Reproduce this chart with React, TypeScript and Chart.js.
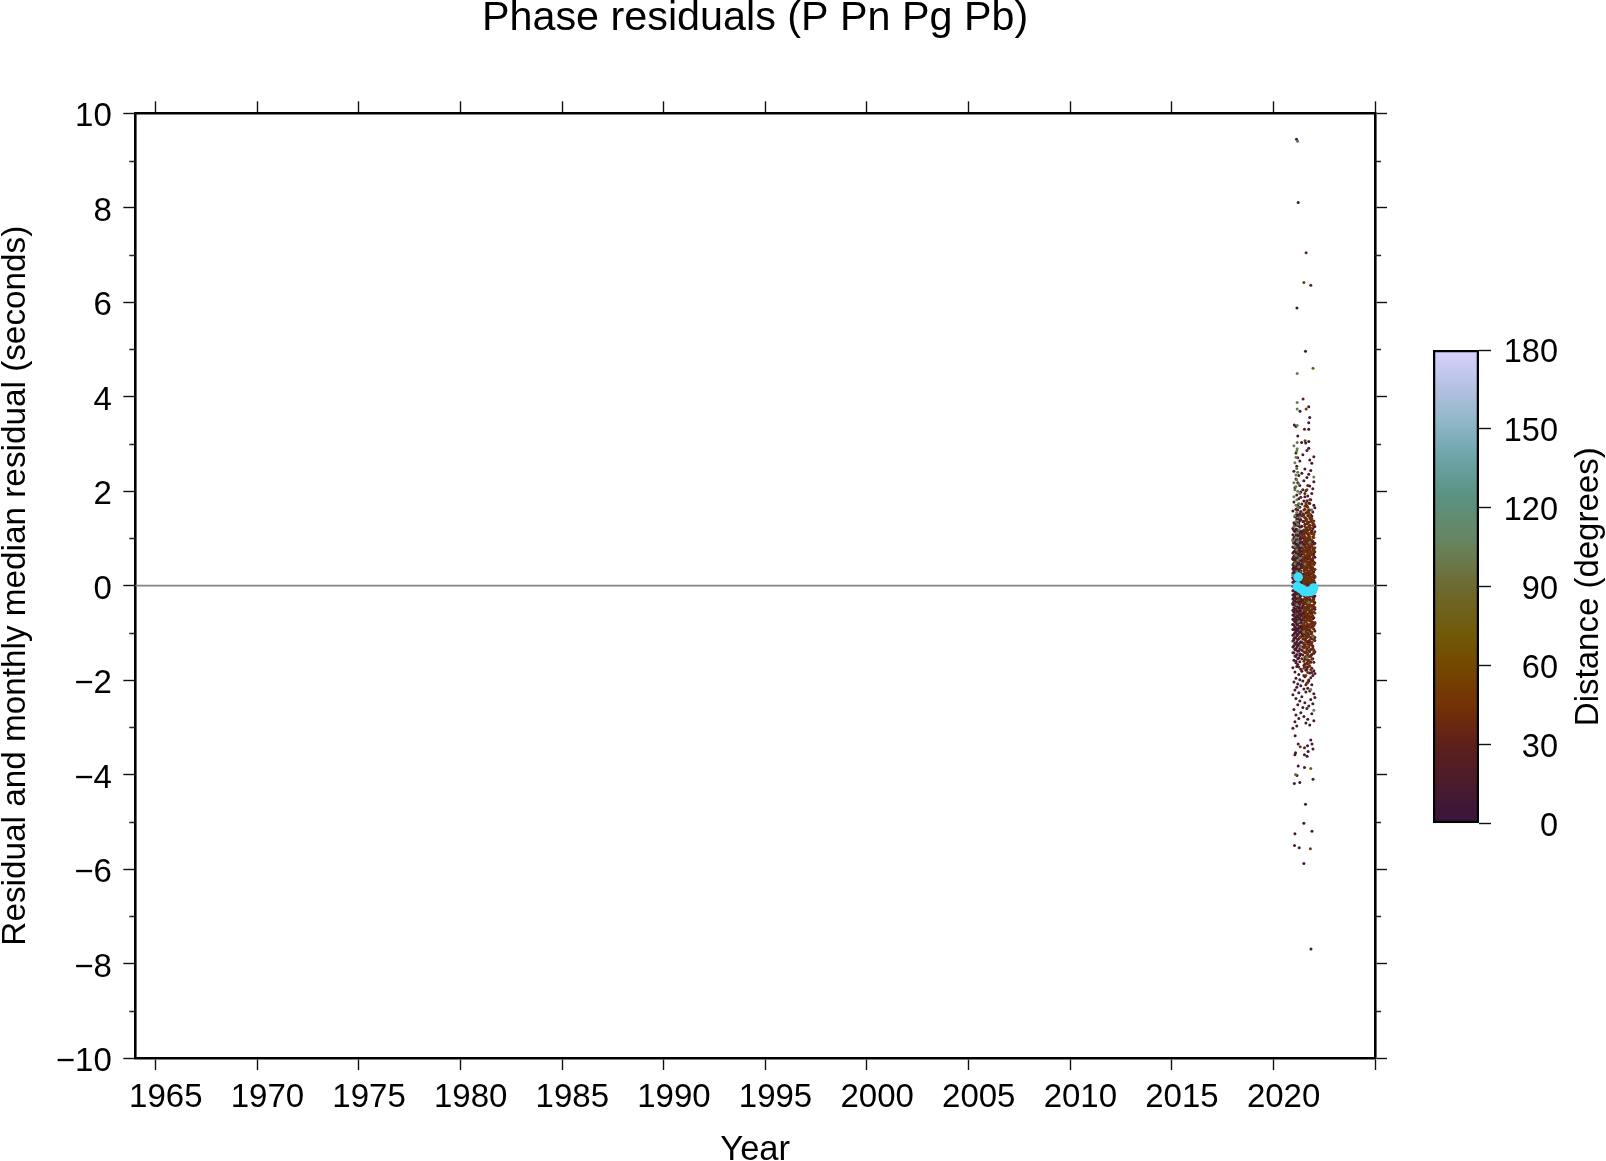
import React, { useEffect, useRef } from "react";
import { Chart, registerables } from "chart.js";

Chart.register(...registerables);

const FONT = "'Liberation Sans', Arial, sans-serif";
const yearTicks = [1965, 1970, 1975, 1980, 1985, 1990, 1995, 2000, 2005, 2010, 2015, 2020, 2025];
const unlabelledYears = [2025];
const residualMinorTicks = [-9, -7, -5, -3, -1, 1, 3, 5, 7, 9];

const medianYears = [2021.17, 2021.22, 2021.33, 2021.42, 2021.5, 2021.58, 2021.67, 2021.75, 2021.83, 2021.92, 2021.98];
const medianResiduals = [-0.02, 0.18, -0.06, -0.08, -0.12, -0.12, -0.13, -0.12, -0.12, -0.1, -0.05];

const outlierYears = [2021.14, 2021.19, 2021.22, 2021.61, 2021.5, 2021.84, 2021.16, 2021.58, 2021.95, 2021.17, 2021.46, 2021.17, 2021.74, 2021.17, 2021.61, 2021.31, 2021.79, 2021.74, 2021.03, 2021.11, 2021.17, 2021.53, 2021.74, 2021.2, 2021.56, 2021.39, 2021.59, 2021.74, 2021.17, 2021.01, 2021.17, 2021.85, 2021.5, 2021.27, 2021.04, 2021.82, 2021.06, 2021.9, 2021.5, 2021.58, 2021.03, 2021.3, 2021.95, 2021.16, 2021.09, 2021.84, 2021.22, 2021.53, 2021.66, 2021.06, 2021.53, 2021.09, 2021.71, 2021.95, 2021.68, 2021.32, 2021.53, 2021.9, 2021.22, 2021.84, 2021.07];
const outlierResiduals = [9.45, 9.41, 8.11, 7.05, 6.42, 6.36, 5.88, 4.96, 4.6, 4.49, 3.95, 3.88, 3.79, 3.74, 3.74, 3.69, 3.56, 3.45, 3.4, 3.37, 3.39, 3.31, 3.31, 3.17, 3.07, 3.03, 3.02, 3.05, 3.03, 2.96, 2.9, -7.69, -5.88, -5.55, -5.5, -5.57, -5.25, -5.2, -5.03, -4.63, -4.19, -4.17, -4.1, -4.02, -4, -3.87, -3.82, -3.85, -3.61, -3.58, -3.58, -3.54, -3.51, -3.46, -3.39, -3.41, -3.43, -3.35, -3.35, -3.27, -3.18];
const outlierDistances = [8, 100, 6, 35, 52, 25, 8, 10, 75, 100, 30, 100, 8, 100, 45, 8, 8, 8, 8, 8, 100, 30, 8, 8, 45, 8, 8, 8, 100, 100, 100, 8, 8, 8, 25, 50, 8, 8, 8, 8, 8, 8, 8, 8, 90, 78, 8, 8, 8, 8, 8, 8, 8, 8, 8, 45, 25, 8, 8, 8, 8];

const columnYears = [2020.96, 2021.01, 2021.06, 2021.11, 2021.15, 2021.2, 2021.25, 2021.3, 2021.35, 2021.4, 2021.45, 2021.5, 2021.55, 2021.6, 2021.65, 2021.69, 2021.74, 2021.79, 2021.84, 2021.89, 2021.94, 2021.99, 2022.04];

const darkColumns = [
  [-3.02, -2.31, -1.74, -1.42, -1.17, -0.93, -0.71, -0.52, -0.28, -0.11, 0.07, 0.26, 0.44, 0.69, 0.97, 1.21, 1.58],
  [-2.62, -2.04, -1.58, -1.27, -1.03, -0.84, -0.63, -0.47, -0.33, -0.18, -0.02, 0.13, 0.31, 0.48, 0.62, 0.81, 1.02, 1.33, 1.77, 2.42],
  [-2.88, -2.21, -1.83, -1.49, -1.22, -0.99, -0.77, -0.59, -0.41, -0.24, -0.08, 0.04, 0.21, 0.37, 0.55, 0.74, 0.91, 1.14, 1.46, 2.07],
  [-2.74, -2.39, -1.96, -1.63, -1.36, -1.11, -0.89, -0.68, -0.5, -0.36, -0.14, 0.01, 0.17, 0.34, 0.51, 0.7, 0.86, 1.08, 1.29, 1.62, 2.26, 2.81],
  [-2.97, -2.15, -1.71, -1.31, -1.06, -0.82, -0.65, -0.43, -0.27, -0.06, 0.09, 0.28, 0.43, 0.6, 0.78, 0.98, 1.19, 1.51, 1.92, 2.53],
  [-2.52, -2.08, -1.67, -1.39, -1.14, -0.95, -0.74, -0.56, -0.38, -0.2, -0.04, 0.15, 0.33, 0.47, 0.66, 0.83, 1.05, 1.27, 1.71, 2.18, 2.71],
  [-2.81, -2.27, -1.88, -1.53, -1.24, -1.01, -0.79, -0.61, -0.45, -0.26, -0.09, 0.05, 0.23, 0.39, 0.58, 0.76, 0.94, 1.17, 1.42, 1.84, 2.33],
  [-2.44, -1.99, -1.61, -1.33, -1.09, -0.87, -0.69, -0.49, -0.31, -0.16, 0.02, 0.19, 0.36, 0.53, 0.71, 0.89, 1.11, 1.38, 1.66, 2.12, 2.64],
  [-2.69, -2.12, -1.77, -1.45, -1.19, -0.97, -0.73, -0.54, -0.35, -0.22, -0.05, 0.11, 0.29, 0.46, 0.64, 0.84, 1.03, 1.24, 1.57, 1.98],
  [-2.35, -1.81, -1.37, -1.02, -0.78, -0.48, -0.19, 0.08, 0.38, 0.67, 0.92, 1.26, 1.73, 2.38],
  [-2.58, -2.02, -1.47, -1.13, -0.86, -0.58, -0.3, 0.03, 0.24, 0.56, 0.88, 1.16, 1.52, 2.03, 2.77],
  [-2.77, -2.19, -1.69, -1.29, -1.05, -0.81, -0.6, -0.39, -0.21, -0.03, 0.14, 0.32, 0.49, 0.68, 0.87, 1.09, 1.36, 1.79, 2.22],
  [-2.48, -1.93, -1.56, -1.25, -0.98, -0.76, -0.55, -0.37, -0.17, 0.0, 0.18, 0.35, 0.54, 0.73, 0.93, 1.13, 1.44, 1.88, 2.47],
  [-2.91, -2.25, -1.79, -1.41, -1.12, -0.9, -0.67, -0.46, -0.29, -0.1, 0.06, 0.22, 0.41, 0.59, 0.77, 0.96, 1.22, 1.54, 2.01],
  [-2.6, -2.06, -1.64, -1.34, -1.07, -0.85, -0.62, -0.44, -0.25, -0.07, 0.1, 0.27, 0.45, 0.63, 0.8, 1.01, 1.31, 1.69, 2.29, 2.86],
  [-2.83, -2.17, -1.72, -1.44, -1.18, -0.94, -0.72, -0.51, -0.34, -0.13, 0.03, 0.2, 0.4, 0.57, 0.75, 0.95, 1.18, 1.48, 1.9],
  [-2.55, -2.0, -1.59, -1.3, -1.04, -0.83, -0.64, -0.42, -0.23, -0.01, 0.16, 0.3, 0.5, 0.65, 0.85, 1.07, 1.34, 1.75, 2.36, 2.91],
  [-2.95, -2.23, -1.85, -1.5, -1.2, -0.96, -0.75, -0.57, -0.4, -0.15, 0.0, 0.25, 0.42, 0.61, 0.79, 0.99, 1.23, 1.6, 2.11, 2.66],
  [-2.41, -1.95, -1.62, -1.35, -1.1, -0.88, -0.66, -0.53, -0.32, -0.12, 0.08, 0.24, 0.38, 0.56, 0.72, 0.9, 1.12, 1.4, 1.82, 2.44],
  [-2.71, -2.1, -1.75, -1.46, -1.21, -1.0, -0.8, -0.6, -0.43, -0.2, -0.03, 0.12, 0.33, 0.52, 0.7, 0.92, 1.15, 1.47, 1.95, 2.59],
  [-2.5, -1.9, -1.55, -1.28, -1.08, -0.86, -0.7, -0.48, -0.3, -0.14, 0.05, 0.2, 0.37, 0.55, 0.74, 0.94, 1.2, 1.56, 2.05],
  [-2.86, -2.29, -1.8, -1.43, -1.15, -0.92, -0.68, -0.46, -0.26, -0.08, 0.11, 0.29, 0.47, 0.67, 0.88, 1.1, 1.37, 1.7, 2.2, 2.73],
  [-2.37, -1.86, -1.4, -1.1, -0.8, -0.5, -0.22, 0.06, 0.34, 0.6, 0.9, 1.25, 1.65],
];

const darkFillColumns = [
  [-1.3, -1.05, -0.82, -0.62, -0.4, -0.2, -0.02, 0.17, 0.35, 0.56, 0.82, 1.08],
  [-1.42, -1.15, -0.93, -0.74, -0.55, -0.4, -0.25, -0.1, 0.06, 0.22, 0.4, 0.55, 0.72, 0.92, 1.17],
  [-1.34, -1.1, -0.88, -0.68, -0.5, -0.32, -0.16, -0.01, 0.12, 0.29, 0.46, 0.64, 0.82, 1.03, 1.28],
  [-1.5, -1.24, -1.0, -0.78, -0.59, -0.43, -0.28, -0.07, 0.09, 0.25, 0.42, 0.6, 0.78, 0.96, 1.18, 1.47],
  [-1.46, -1.19, -0.94, -0.74, -0.54, -0.35, -0.17, 0.02, 0.19, 0.36, 0.52, 0.69, 0.88, 1.08, 1.35],
  [-1.55, -1.27, -1.04, -0.84, -0.65, -0.47, -0.29, -0.12, 0.06, 0.24, 0.4, 0.57, 0.74, 0.95, 1.16, 1.48],
  [-1.38, -1.13, -0.9, -0.7, -0.53, -0.35, -0.18, -0.02, 0.14, 0.31, 0.48, 0.67, 0.85, 1.06, 1.3],
  [-1.48, -1.21, -0.98, -0.78, -0.59, -0.4, -0.24, -0.07, 0.11, 0.27, 0.44, 0.62, 0.8, 1.0, 1.24, 1.52],
  [-1.29, -1.08, -0.85, -0.64, -0.47, -0.29, -0.13, 0.05, 0.2, 0.38, 0.55, 0.73, 0.93, 1.15, 1.4],
  [-1.2, -0.9, -0.62, -0.34, -0.06, 0.22, 0.52, 0.8, 1.12],
  [-1.06, -0.72, -0.42, -0.17, 0.13, 0.4, 0.72, 1.02],
];

const brownFillColumns = [
  [-1.22, -0.94, -0.66, -0.38, -0.08, 0.2, 0.5, 0.78, 1.1],
  [-1.6, -1.32, -1.12, -0.9, -0.7, -0.53, -0.34, -0.16, 0.04, 0.21, 0.39, 0.56, 0.75, 0.95, 1.18, 1.5],
  [-1.52, -1.28, -1.03, -0.85, -0.62, -0.46, -0.28, -0.07, 0.1, 0.28, 0.47, 0.64, 0.83, 1.04, 1.26, 1.62],
  [-1.72, -1.42, -1.17, -0.96, -0.76, -0.56, -0.38, -0.2, 0.0, 0.16, 0.34, 0.54, 0.72, 0.92, 1.12, 1.38, 1.7],
  [-1.66, -1.36, -1.1, -0.9, -0.69, -0.5, -0.3, -0.12, 0.07, 0.24, 0.43, 0.6, 0.8, 1.0, 1.22, 1.55],
  [-1.84, -1.5, -1.24, -1.03, -0.82, -0.62, -0.44, -0.25, -0.05, 0.13, 0.31, 0.5, 0.69, 0.88, 1.09, 1.32, 1.66],
  [-1.58, -1.3, -1.06, -0.87, -0.66, -0.48, -0.31, -0.1, 0.08, 0.26, 0.44, 0.62, 0.82, 1.02, 1.26, 1.6],
  [-1.7, -1.4, -1.15, -0.94, -0.73, -0.54, -0.35, -0.16, 0.03, 0.19, 0.37, 0.56, 0.76, 0.96, 1.19, 1.44, 1.82],
  [-1.5, -1.24, -1.02, -0.81, -0.6, -0.42, -0.22, -0.03, 0.15, 0.33, 0.51, 0.7, 0.9, 1.12, 1.36],
  [-1.56, -1.26, -0.98, -0.76, -0.52, -0.33, -0.12, 0.08, 0.27, 0.46, 0.66, 0.87, 1.1, 1.42],
  [-1.34, -1.06, -0.84, -0.64, -0.42, -0.2, 0.0, 0.19, 0.38, 0.58, 0.8, 1.03, 1.28],
  [-1.4, -1.08, -0.82, -0.56, -0.3, -0.04, 0.22, 0.5, 0.76, 1.02, 1.3],
  [-1.16, -0.78, -0.46, -0.14, 0.2, 0.48, 0.8, 1.14],
];

const brownFillStartColumn = 10;

const redColumns = [
  [-0.82, -0.37, 0.16, 0.58],
  [-1.12, -0.55, -0.1, 0.39, 0.9],
  [-1.35, -0.7, -0.2, 0.26, 0.8, 1.3],
  [-1.6, -0.95, -0.42, 0.08, 0.56, 1.2],
  [-0.73, -0.15, 0.36, 0.87, 1.41],
  [-1.25, -0.66, -0.12, 0.41, 0.95, 1.6],
  [-1.72, -0.9, -0.34, 0.13, 0.67, 1.33],
  [-1.44, -0.76, -0.23, 0.27, 0.78, 1.5],
  [-1.08, -0.61, -0.06, 0.42, 0.99, 1.87],
  [-1.55, -0.93, -0.35, -0.03, 0.24, 0.52, 0.8, 1.08, 1.48],
  [-1.3, -1.0, -0.7, -0.44, -0.12, 0.15, 0.44, 0.74, 1.02, 1.36],
  [-1.9, -1.4, -0.91, -0.46, -0.1, 0.24, 0.6, 1.0, 1.6],
  [-1.66, -1.15, -0.66, -0.26, 0.1, 0.46, 0.84, 1.3, 1.95],
  [-2.1, -1.5, -0.98, -0.55, -0.18, 0.15, 0.52, 0.88, 1.42],
  [-1.77, -1.2, -0.72, -0.31, 0.05, 0.37, 0.72, 1.16, 1.8],
  [-1.58, -1.02, -0.6, -0.2, 0.14, 0.5, 0.9, 1.35, 2.12],
  [-2.02, -1.38, -0.88, -0.47, -0.09, 0.23, 0.58, 0.97, 1.55],
  [-1.7, -1.16, -0.7, -0.28, 0.06, 0.44, 0.82, 1.28, 1.74],
  [-1.48, -0.98, -0.42, 0.02, 0.47, 0.95, 1.5],
  [-1.84, -1.12, -0.58, -0.08, 0.4, 0.84, 1.38],
  [-1.32, -0.78, -0.24, 0.28, 0.78, 1.32],
  [-1.62, -0.84, -0.34, 0.16, 0.62, 1.24],
  [-0.96, -0.36, 0.18, 0.72],
];

const orangeColumns = [
  [], [], [0.5], [-0.6], [], [0.72], [-0.3], [-1.1], [0.31], [1.05],
  [-0.82, 0.6],
  [-1.75, -1.22, -0.83, -0.5, -0.2, 0.09, 0.38, 0.7, 1.04, 1.46],
  [-1.42, -1.06, -0.75, -0.45, -0.14, 0.13, 0.41, 0.76, 1.12, 1.68],
  [-1.9, -1.3, -0.94, -0.6, -0.33, -0.04, 0.2, 0.5, 0.82, 1.18, 1.75],
  [-1.55, -1.1, -0.8, -0.5, -0.22, 0.08, 0.33, 0.65, 0.98, 1.4, 2.03],
  [-2.05, -1.45, -1.0, -0.68, -0.4, -0.1, 0.18, 0.48, 0.78, 1.12, 1.58],
  [-1.65, -1.08, -0.74, -0.44, -0.16, 0.12, 0.4, 0.7, 1.06, 1.52],
  [-1.25, -0.86, -0.52, -0.2, 0.09, 0.3, 0.62, 1.04, 1.46],
  [-1.78, -0.7, 0.18, 0.66, 1.22],
  [-1.2, -0.46, 0.27, 0.97],
  [-0.9, 0.1, 0.72, 1.36],
  [-1.36, -0.4, 0.44, 1.08],
  [-0.58, 0.34],
];

const oliveColumns = [
  [0.22, 0.95],
  [1.25, 1.88, 2.18],
  [0.46, 0.83, 1.48, 2.03, 2.6],
  [0.15, 0.64, 1.02, 1.36, 1.7, 2.1, 2.34, 2.72],
  [-0.4, 0.3, 0.76, 1.12, 1.55, 1.82, 2.24, 2.48, 2.85],
  [-0.22, 0.54, 0.94, 1.3, 1.66, 2.0, 2.4],
  [-0.76, 0.4, 1.18, 1.74, 2.15],
  [0.58, 1.45, 1.95],
  [-1.3, 0.85],
  [], [], [-0.98], [0.46], [], [-1.52], [], [-0.35], [0.92], [-2.2], [1.6], [-1.08], [-2.64, 2.3], [],
];

const tierDistances = { dark: 14, red: 30, brown: 40, orange: 52, olive: 102 };

const colormapStops: [number, number, number, number][] = [
  [0, 56, 22, 62], [15, 74, 27, 44], [30, 94, 32, 26], [45, 116, 50, 6], [60, 116, 72, 0],
  [72, 112, 90, 8], [90, 110, 106, 48], [108, 102, 134, 98], [125, 90, 146, 132], [140, 110, 166, 170],
  [152, 142, 182, 198], [166, 182, 192, 226], [180, 216, 210, 255],
];

function distanceColor(d: number) {
  let i = 0;
  while (i < colormapStops.length - 2 && d > colormapStops[i + 1][0]) i++;
  const a = colormapStops[i], b = colormapStops[i + 1];
  const t = Math.max(0, Math.min(1, (d - a[0]) / (b[0] - a[0])));
  const m = (k: number) => Math.round(a[k] + (b[k] - a[k]) * t);
  return `rgb(${m(1)},${m(2)},${m(3)})`;
}

const columnPoints = (cols: number[][], start = 0) =>
  cols.flatMap((ys, i) => ys.map((y) => ({ x: columnYears[start + i], y })));

const mainLabelsPlugin = {
  id: "mainLabels",
  afterDraw(chart: any) {
    const { ctx, scales, chartArea } = chart;
    ctx.save();
    ctx.strokeStyle = "#222";
    ctx.lineWidth = 1.3;
    for (const v of residualMinorTicks) {
      const y = Math.round(scales.y.getPixelForValue(v)) + 0.5;
      ctx.beginPath();
      ctx.moveTo(chartArea.left - 6, y);
      ctx.lineTo(chartArea.left, y);
      ctx.moveTo(chartArea.right, y);
      ctx.lineTo(chartArea.right + 6, y);
      ctx.stroke();
    }
    ctx.fillStyle = "#000";
    ctx.font = `33px ${FONT}`;
    ctx.textBaseline = "alphabetic";
    ctx.textAlign = "right";
    for (const t of scales.y.ticks) {
      ctx.fillText(String(t.value).replace("-", "\u2212"), chartArea.left - 23.5, scales.y.getPixelForValue(t.value) + 13);
    }
    ctx.textAlign = "center";
    for (const t of scales.x.ticks) {
      if (!unlabelledYears.includes(t.value)) {
        ctx.fillText(String(t.value), scales.x.getPixelForValue(t.value) + 10.2, chartArea.bottom + 48.7);
      }
    }
    ctx.restore();
  },
};

const distanceLabelPlugin = {
  id: "distanceLabel",
  afterDraw(chart: any) {
    const { ctx, chartArea, scales } = chart;
    ctx.save();
    ctx.fillStyle = "#000";
    ctx.font = `32.5px ${FONT}`;
    ctx.textAlign = "right";
    ctx.textBaseline = "alphabetic";
    for (const t of scales.y.ticks) {
      ctx.fillText(String(t.value), chartArea.right + 79, scales.y.getPixelForValue(t.value) + 12);
    }
    ctx.translate(198, (chartArea.top + chartArea.bottom) / 2);
    ctx.rotate(-Math.PI / 2);
    ctx.font = `33px ${FONT}`;
    ctx.textAlign = "center";
    ctx.fillText("Distance (degrees)", 0, 0);
    ctx.restore();
  },
};

export default function App() {
  const mainRef = useRef<HTMLCanvasElement>(null);
  const barRef = useRef<HTMLCanvasElement>(null);

  useEffect(() => {
    const dot = { pointRadius: 1.5, pointBorderWidth: 0, showLine: false, type: "scatter" as const };
    const tick = { drawOnChartArea: false, drawTicks: true, tickLength: 12, tickWidth: 1.4, tickColor: "#111" };
    const border = { display: true, color: "#000", width: 2.6 };
    const setYears = (s: any) => { s.ticks = yearTicks.map((value) => ({ value })); };

    const main = new Chart(mainRef.current!, {
      type: "scatter",
      plugins: [mainLabelsPlugin],
      data: {
        datasets: [
          { ...dot, order: 0, data: medianYears.map((x, i) => ({ x, y: medianResiduals[i] })), pointRadius: 4.8, pointBackgroundColor: "#3fdcfb" },
          { ...dot, order: 1, data: outlierYears.map((x, i) => ({ x, y: outlierResiduals[i] })), pointBackgroundColor: outlierDistances.map(distanceColor) },
          { ...dot, order: 2, data: columnPoints(oliveColumns), pointBackgroundColor: distanceColor(tierDistances.olive) },
          { ...dot, order: 3, data: columnPoints(brownFillColumns, brownFillStartColumn), pointBackgroundColor: distanceColor(tierDistances.brown) },
          { ...dot, order: 4, data: columnPoints(orangeColumns), pointBackgroundColor: distanceColor(tierDistances.orange) },
          { ...dot, order: 5, data: columnPoints(darkColumns), pointBackgroundColor: distanceColor(tierDistances.dark) },
          { ...dot, order: 6, data: columnPoints(darkFillColumns), pointBackgroundColor: distanceColor(tierDistances.dark) },
          { ...dot, order: 7, data: columnPoints(redColumns), pointBackgroundColor: distanceColor(tierDistances.red) },
          { type: "line", order: 8, data: [{ x: 1964, y: 0 }, { x: 2025, y: 0 }], borderColor: "#828282", borderWidth: 1.6, pointRadius: 0 },
        ] as any,
      },
      options: {
        animation: false,
        responsive: false,
        layout: { padding: 0, autoPadding: false },
        plugins: { legend: { display: false }, tooltip: { enabled: false }, title: { display: false } },
        scales: {
          x: {
            type: "linear", position: "bottom", min: 1964, max: 2025,
            afterBuildTicks: setYears,
            afterFit: (s: any) => { s.height = 103; },
            grid: tick, border,
            ticks: { display: false },
            title: { display: true, text: "Year", color: "#000", font: { family: FONT, size: 34.5, lineHeight: 1 }, padding: { top: 0, bottom: -7 } },
          },
          x2: {
            type: "linear", position: "top", min: 1964, max: 2025,
            afterBuildTicks: setYears,
            afterFit: (s: any) => { s.height = 113.3; },
            grid: tick, border,
            ticks: { display: false },
            title: { display: true, text: "Phase residuals (P Pn Pg Pb)", color: "#000", font: { family: FONT, size: 41.3, lineHeight: 1 }, padding: { top: -2, bottom: 0 } },
          },
          y: {
            type: "linear", position: "left", min: -10, max: 10,
            afterFit: (s: any) => { s.width = 135.3; },
            grid: tick, border,
            ticks: { stepSize: 2, display: false },
            title: { display: true, text: "Residual and monthly median residual (seconds)", color: "#000", font: { family: FONT, size: 33.3, lineHeight: 1 }, padding: { top: -1, bottom: 0 } },
          },
          y2: {
            type: "linear", position: "right", min: -10, max: 10,
            afterFit: (s: any) => { s.width = 231; },
            grid: tick, border,
            ticks: { stepSize: 2, display: false },
          },
        },
      },
    });

    const bar = new Chart(barRef.current!, {
      type: "bar",
      plugins: [distanceLabelPlugin],
      data: {
        labels: ["Distance"],
        datasets: [{
          data: [[0, 180]],
          barPercentage: 1,
          categoryPercentage: 1,
          borderColor: "#000",
          borderWidth: 2.6,
          borderSkipped: false,
          backgroundColor: (c: any) => {
            const area = c.chart.chartArea;
            if (!area) return "#000";
            const g = c.chart.ctx.createLinearGradient(0, area.bottom, 0, area.top);
            colormapStops.forEach((s) => g.addColorStop(s[0] / 180, `rgb(${s[1]},${s[2]},${s[3]})`));
            return g;
          },
        }] as any,
      },
      options: {
        animation: false,
        responsive: false,
        layout: { padding: { left: 33, top: 20, bottom: 26.5, right: 0 }, autoPadding: false },
        plugins: { legend: { display: false }, tooltip: { enabled: false } },
        scales: {
          x: { display: false },
          y: {
            position: "right", min: 0, max: 180,
            afterFit: (s: any) => { s.width = 127; },
            grid: tick,
            border: { display: false },
            ticks: { stepSize: 30, display: false },
          },
        },
      },
    });

    return () => { main.destroy(); bar.destroy(); };
  }, []);

  return (
    <div>
      <canvas ref={mainRef} width={1606} height={1161} style={{ position: "absolute", left: 0, top: 0, display: "block" }} />
      <canvas ref={barRef} width={206} height={520} style={{ position: "absolute", left: 1400, top: 330, display: "block" }} />
    </div>
  );
}
